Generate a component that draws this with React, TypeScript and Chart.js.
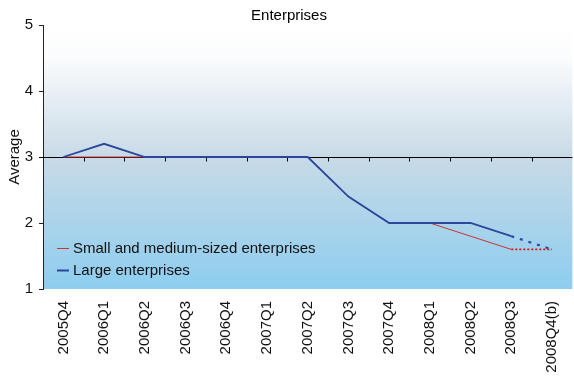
import React, { useEffect, useRef } from "react";
import { Chart, registerables } from "chart.js";

Chart.register(...registerables);

const categories = [
  "2005Q4", "2006Q1", "2006Q2", "2006Q3", "2006Q4", "2007Q1", "2007Q2",
  "2007Q3", "2007Q4", "2008Q1", "2008Q2", "2008Q3", "2008Q4(b)",
];
const smeValues = [3, 3, 3, 3, 3, 3, 3, 2.4, 2, 2, 1.8, 1.6, 1.6];
const largeValues = [3, 3.2, 3, 3, 3, 3, 3, 2.4, 2, 2, 2, 1.8, 1.6];
const yTicks = [1, 2, 3, 4, 5];
const titleText = "Enterprises";
const yTitle = "Average";
const legendLabels = ["Small and medium-sized enterprises", "Large enterprises"];
const baselineValue = 3;

const RED = "#cc3333";
const BLUE = "#2a479c";
const FONT = "'Liberation Sans', Arial, sans-serif";

export default function App() {
  const ref = useRef<HTMLCanvasElement | null>(null);

  useEffect(() => {
    document.body.style.margin = "0";
    const canvas = ref.current;
    if (!canvas) return;

    const bgPlugin = {
      id: "bg",
      beforeDraw(chart: any) {
        const { ctx, chartArea } = chart;
        const g = ctx.createLinearGradient(0, chartArea.top, 0, chartArea.bottom);
        g.addColorStop(0, "#ffffff");
        g.addColorStop(0.12, "#fbfcfd");
        g.addColorStop(0.5, "#c8dae7");
        g.addColorStop(1, "#8dcdef");
        ctx.save();
        ctx.fillStyle = g;
        ctx.fillRect(chartArea.left, chartArea.top, chartArea.right - chartArea.left, chartArea.bottom - chartArea.top);
        ctx.restore();
      },
      beforeDatasetsDraw(chart: any) {
        const { ctx, chartArea, scales } = chart;
        const y = Math.round(scales.y.getPixelForValue(baselineValue)) + 0.5;
        const xs = scales.x;
        ctx.save();
        ctx.strokeStyle = "#000";
        ctx.lineWidth = 1;
        ctx.beginPath();
        ctx.moveTo(chartArea.left - 4, y);
        ctx.lineTo(chartArea.right, y);
        const step = xs.getPixelForValue(1) - xs.getPixelForValue(0);
        for (let i = 0; i < categories.length - 1; i++) {
          const px = Math.round(xs.getPixelForValue(i) + step / 2) + 0.5;
          ctx.moveTo(px, y);
          ctx.lineTo(px, y + 4);
        }
        ctx.stroke();
        ctx.restore();
      },
      afterDraw(chart: any) {
        const { ctx, chartArea } = chart;
        ctx.save();
        ctx.fillStyle = "#000";
        ctx.font = `15px ${FONT}`;
        ctx.textAlign = "center";
        ctx.textBaseline = "middle";
        ctx.fillText(titleText, chartArea.left + 246, 16);
        // legend
        ctx.font = `15px ${FONT}`;
        ctx.textAlign = "left";
        const colors = [RED, BLUE];
        const widths = [1, 2];
        legendLabels.forEach((lab, i) => {
          const ly = 248 + i * 22;
          ctx.strokeStyle = colors[i];
          ctx.lineWidth = widths[i];
          ctx.beginPath();
          ctx.moveTo(chartArea.left + 14, ly + 0.5);
          ctx.lineTo(chartArea.left + 26, ly + 0.5);
          ctx.stroke();
          ctx.fillStyle = "#111";
          ctx.fillText(lab, chartArea.left + 30, ly + 1);
        });
        ctx.restore();
      },
    };

    const isLast = (c: any) => c.p1DataIndex === categories.length - 1;

    const chart = new Chart(canvas, {
      type: "line",
      data: {
        labels: categories,
        datasets: [
          {
            label: legendLabels[0],
            data: smeValues,
            borderColor: RED,
            borderWidth: 1,
            pointRadius: 0,
            tension: 0,
            order: 2,
            segment: {
              borderDash: (c: any) => (isLast(c) ? [2, 2] : undefined),
              borderWidth: (c: any) => (isLast(c) ? 1.6 : undefined),
              borderColor: (c: any) => (isLast(c) ? "#d41c1c" : undefined),
            },
          },
          {
            label: legendLabels[1],
            data: largeValues,
            borderColor: BLUE,
            borderWidth: 1.8,
            pointRadius: 0,
            tension: 0,
            order: 1,
            segment: {
              borderDash: (c: any) => (isLast(c) ? [3, 6] : undefined),
              borderWidth: (c: any) => (isLast(c) ? 2.2 : undefined),
            },
          },
        ],
      },
      options: {
        animation: false,
        responsive: false,
        layout: { padding: { top: 25, left: 0, right: 0, bottom: 0 } },
        plugins: {
          legend: { display: false },
          title: { display: false },
          tooltip: { enabled: false },
        },
        scales: {
          x: {
            type: "category",
            offset: true,
            grid: { display: false },
            border: { display: false },
            ticks: {
              minRotation: 90,
              maxRotation: 90,
              autoSkip: false,
              color: "#111",
              font: { family: FONT, size: 15 },
              padding: 4,
            },
            afterFit: (s: any) => {
              s.height = 87;
            },
          },
          y: {
            min: 1,
            max: 5,
            afterBuildTicks: (s: any) => {
              s.ticks = yTicks.map((v) => ({ value: v }));
            },
            grid: {
              drawOnChartArea: false,
              drawTicks: true,
              tickLength: 4,
              color: "#222",
            },
            border: { display: true, color: "#222", width: 1 },
            ticks: {
              color: "#111",
              font: { family: FONT, size: 15 },
              padding: 6,
            },
            title: {
              display: true,
              text: yTitle,
              color: "#111",
              font: { family: FONT, size: 15 },
              padding: { top: 6, bottom: 0 },
            },
            afterFit: (s: any) => {
              s.width = 43;
            },
          },
        },
      },
      plugins: [bgPlugin],
    });

    return () => chart.destroy();
  }, []);

  return (
    <div style={{ width: 574, height: 376 }}>
      <canvas ref={ref} width={574} height={376} style={{ display: "block" }} />
    </div>
  );
}
